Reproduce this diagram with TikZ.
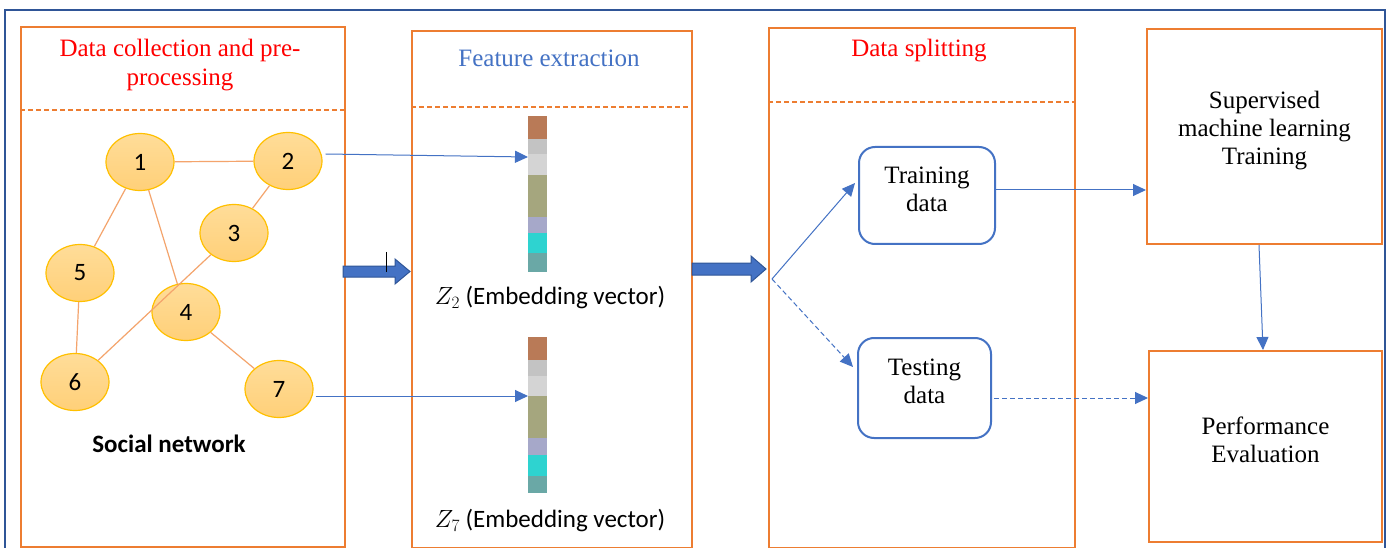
\documentclass[tikz,border=0pt]{standalone}
\usepackage{fontspec}
\setmainfont{Liberation Serif}
\newfontfamily\carlito{Carlito}
\usetikzlibrary{shapes.geometric,arrows.meta,calc}
\definecolor{panelorange}{HTML}{ED7D31}
\definecolor{frameblue}{HTML}{2F5597}
\definecolor{connblue}{HTML}{4472C4}
\definecolor{nodefill}{HTML}{FFD47F}
\definecolor{nodeedge}{HTML}{FFC000}
\definecolor{edgeorange}{HTML}{F4A46C}
\definecolor{headred}{HTML}{FF0000}
\definecolor{vbrown}{HTML}{B97A57}
\definecolor{vgray}{HTML}{C3C3C3}
\definecolor{vlgray}{HTML}{D4D4D4}
\definecolor{volive}{HTML}{A5A67E}
\definecolor{vlav}{HTML}{A6A8C9}
\definecolor{vcyan}{HTML}{2ED3D0}
\definecolor{vteal}{HTML}{6AA8A6}
\begin{document}
\begin{tikzpicture}[x=1pt,y=-1pt,
  panel/.style={draw=panelorange,line width=2,rectangle,inner sep=0},
  hdash/.style={draw=panelorange,line width=1.5,dash pattern=on 5pt off 3pt},
  head/.style={align=center,font=\fontsize{25}{29}\selectfont},
  gnode/.style={ellipse,minimum width=68,minimum height=57,inner sep=0,top color=nodefill!80!white,bottom color=nodefill!95!orange,draw=nodeedge,line width=1.2,font=\carlito\fontsize{25}{28}\selectfont},
  gedge/.style={draw=edgeorange,line width=1.2},
  conn/.style={draw=connblue,line width=1,-{Triangle[length=13pt,width=12pt]}},
  dconn/.style={conn,dash pattern=on 5pt off 3pt},
  rbox/.style={draw=connblue,line width=2,rounded corners=16,rectangle,inner sep=0},
  boxtext/.style={align=center,font=\fontsize{25}{28}\selectfont},
  blockarrow/.style={fill=connblue,draw=frameblue,line width=1},
  embl/.style={font=\carlito\fontsize{25}{28}\selectfont}
]
\useasboundingbox (0,0) rectangle (1387,548);
\clip (0,0) rectangle (1387,548);
\fill[white] (0,0) rectangle (1387,548);
\draw[frameblue,line width=2.5] (5,10) rectangle (1385,580);

% panels
\node[panel,anchor=north west,minimum width=324,minimum height=520] (p1) at (20,26) {};
\node[panel,anchor=north west,minimum width=280,minimum height=517] (p2) at (411,30) {};
\node[panel,anchor=north west,minimum width=306,minimum height=520] (p3) at (768,27) {};
\node[panel,anchor=north west,minimum width=235,minimum height=215,
  label={[boxtext,yshift=6pt]center:Supervised\\machine learning\\Training}] (sup) at (1146,28) {};
\node[panel,anchor=north west,minimum width=233,minimum height=191,
  label={[boxtext,yshift=6.5pt]center:Performance\\Evaluation}] (perf) at (1148,350) {};

\draw[hdash] (p1.west |- 0,110) -- (p1.east |- 0,110);
\draw[hdash] (p2.west |- 0,107) -- (p2.east |- 0,107);
\draw[hdash] (p3.west |- 0,102) -- (p3.east |- 0,102);

\node[head,text=headred] (h1) at (180,65.5) {Data collection and pre-\\processing};
\node[head,text=connblue] (h2) at (549,58) {Feature extraction};
\node[head,text=headred] (h3) at (919,51) {Data splitting};

% graph
\node[gnode] (n1) at (140,162) {1};
\node[gnode] (n2) at (288,161) {2};
\node[gnode] (n3) at (234,233) {3};
\node[gnode] (n4) at (186,312) {4};
\node[gnode] (n5) at (80,273) {5};
\node[gnode] (n6) at (75,382) {6};
\node[gnode] (n7) at (279,389) {7};
\draw[gedge] (n1) -- (n2);
\draw[gedge] (n1) -- (n5);
\draw[gedge] (n1) -- (n4);
\draw[gedge] (n2) -- (n3);
\draw[gedge] (n3) -- (n6);
\draw[gedge] (n5) -- (n6);
\draw[gedge] (n4) -- (n7);
\node[font=\carlito\bfseries\fontsize{25}{28}\selectfont] (sn) at (169,444) {Social network};

% embedding vectors
\foreach \a/\b/\c in {116/139/vbrown,139/154/vgray,154/175/vlgray,175/217/volive,217/233/vlav,233/253/vcyan,253/272/vteal}
  \fill[\c] (528,\a) rectangle (547,\b);
\foreach \a/\b/\c in {337/360/vbrown,360/376/vgray,376/396/vlgray,396/438/volive,438/455/vlav,455/476/vcyan,476/493/vteal}
  \fill[\c] (528,\a) rectangle (547,\b);
\coordinate (v1in) at (528,157);
\coordinate (v2in) at (528,396);
\node[embl] (z2) at (550,298) {$Z_2$ (Embedding vector)};
\node[embl] (z7) at (550,521) {$Z_7$ (Embedding vector)};
\draw[conn] ($(n2.east)+(3,-7)$) -- (v1in);
\draw[conn] ($(n7.east)+(2,7)$) -- (v2in);

% block arrows
\draw[blockarrow] (343,266) -- (395,266) -- (395,259) -- (410,271.5) -- (395,284) -- (395,277) -- (343,277) -- cycle;
\draw[blockarrow] (692,263) -- (751,263) -- (751,256) -- (766,269) -- (751,282) -- (751,275) -- (692,275) -- cycle;
\draw[black,line width=0.8] (386,252) -- (386,272);

% data splitting
\node[rbox,minimum width=136,minimum height=97,
  label={[boxtext,yshift=6.5pt]center:Training\\data}] (train) at (927,195.5) {};
\node[rbox,minimum width=133,minimum height=100,
  label={[boxtext,yshift=7pt]center:Testing\\data}] (test) at (924.5,388) {};
\coordinate (split) at (772,279);
\draw[conn] (split) -- ($(train.west)+(-3,-12.5)$);
\draw[dconn] (split) -- ($(test.west)+(-4,-21)$);
\draw[conn] ($(train.east)+(0,-5.5)$) coordinate (ta) -- (ta -| sup.west);
\draw[dconn] ($(test.east)+(2,10)$) coordinate (tb) -- (tb -| perf.west);
\draw[conn] ($(sup.south)+(-5.5,0)$) -- ($(perf.north)+(-2.5,0)$);
\end{tikzpicture}
\end{document}
